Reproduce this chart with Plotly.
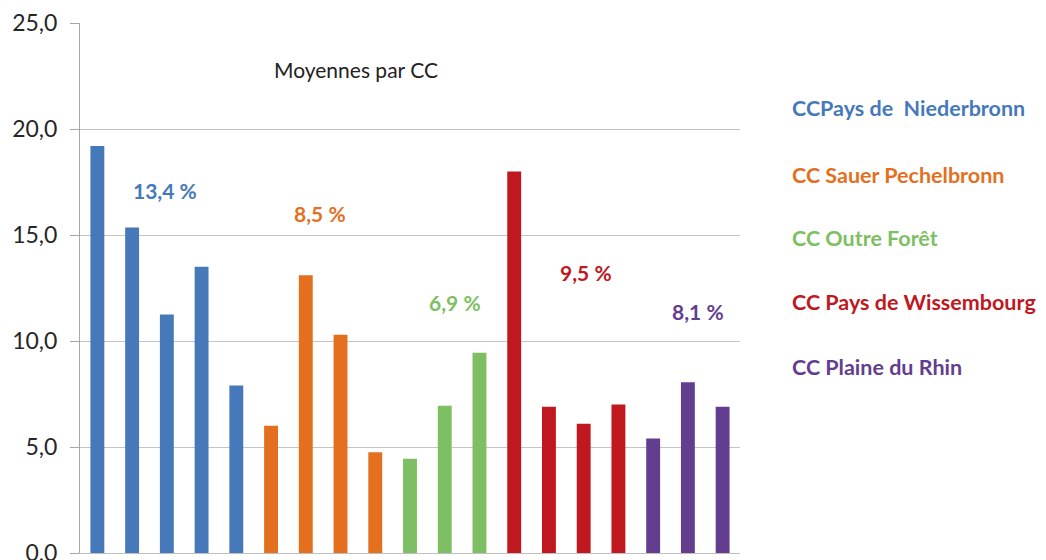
import plotly.graph_objects as go

# Données
groupes = [
    "CCPays de  Niederbronn",
    "CC Sauer Pechelbronn",
    "CC Outre Forêt",
    "CC Pays de Wissembourg",
    "CC Plaine du Rhin",
]
couleurs = ["#4679B9", "#E4701F", "#7DBF62", "#C0181F", "#633E8F"]
val_niederbronn = [19.2, 15.35, 11.25, 13.5, 7.9]
val_sauer = [6.0, 13.1, 10.3, 4.75]
val_outre_foret = [4.45, 6.95, 9.45]
val_wissembourg = [18.0, 6.9, 6.1, 7.0]
val_plaine_rhin = [5.4, 8.05, 6.9]
moyennes = ["13,4 %", "8,5 %", "6,9 %", "9,5 %", "8,1 %"]
y_ticks = [0, 5, 10, 15, 20, 25]
y_ticktext = ["0,0", "5,0", "10,0", "15,0", "20,0", "25,0"]

series = [val_niederbronn, val_sauer, val_outre_foret, val_wissembourg, val_plaine_rhin]

FONT = "Lato"

fig = go.Figure()
debut = 0
for nom, vals, coul in zip(groupes, series, couleurs):
    fig.add_trace(
        go.Bar(
            x=list(range(debut, debut + len(vals))),
            y=vals,
            name=nom,
            marker=dict(color=coul, line=dict(width=0)),
            width=0.4,
        )
    )
    debut += len(vals)

# étiquettes des moyennes (position dans l'espace des données)
pos_moy = [(1.95, 17.1), (6.4, 16.0), (10.3, 11.8), (14.07, 13.25), (17.3, 11.37)]
annotations = [
    dict(
        x=px, y=py, xref="x", yref="y", text=t, showarrow=False,
        font=dict(family=FONT, size=21, color=c, weight="bold"),
    )
    for (px, py), t, c in zip(pos_moy, moyennes, couleurs)
]
annotations.append(
    dict(
        x=7.45, y=22.8, xref="x", yref="y", text="Moyennes par CC", showarrow=False,
        font=dict(family=FONT, size=21, color="#222222"),
    )
)
# légende manuelle à droite
leg_y = [0.84, 0.713, 0.594, 0.474, 0.351]
for nom, coul, ly in zip(groupes, couleurs, leg_y):
    annotations.append(
        dict(
            x=1.076, y=ly, xref="paper", yref="paper", text=nom.replace("  ", "&nbsp; "),
            showarrow=False, xanchor="left", yanchor="middle",
            font=dict(family=FONT, size=21.5, color=coul, weight="bold"),
        )
    )

# la page ajoute une marge de 8 px autour de la figure
fig.update_layout(
    width=1038,
    height=552,
    margin=dict(l=72, r=306, t=15, b=7),
    plot_bgcolor="white",
    paper_bgcolor="white",
    showlegend=False,
    barmode="overlay",
    annotations=annotations,
    xaxis=dict(
        range=[-0.5, 18.5],
        automargin=False,
        showticklabels=False,
        showgrid=False,
        zeroline=False,
        showline=True,
        linecolor="#BFBFBF",
        linewidth=1,
        ticks="",
    ),
    yaxis=dict(
        range=[0, 25],
        automargin=False,
        tickvals=y_ticks,
        ticktext=y_ticktext,
        showgrid=True,
        gridcolor="#C4C4C4",
        gridwidth=1,
        zeroline=False,
        showline=True,
        linecolor="#A6A6A6",
        linewidth=1,
        ticks="outside",
        ticklen=9,
        tickcolor="#A6A6A6",
        ticklabelstandoff=8,
        ticklabeloverflow="allow",
        tickfont=dict(family=FONT, size=23, color="#262626"),
    ),
)

fig.write_html("out.html")
